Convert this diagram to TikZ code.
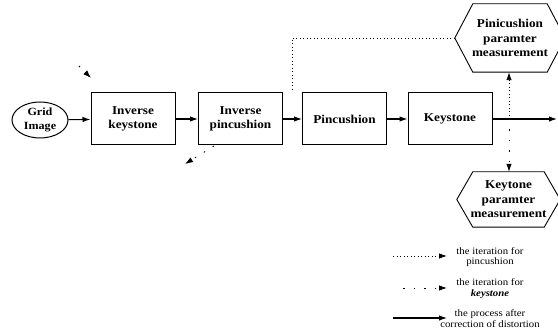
\documentclass[tikz,border=0pt]{standalone}
\usepackage{fontspec}
\setmainfont{Liberation Serif}[FakeStretch=1.1]
\usetikzlibrary{arrows.meta,calc,shapes.geometric}
\begin{document}
\begin{tikzpicture}[x=1pt,y=-1pt,
  box/.style={draw, line width=1pt, minimum width=84pt, minimum height=52pt,
    font=\bfseries\fontsize{12}{14}\selectfont, align=center, inner sep=0pt},
  hexnode/.style={font=\bfseries\fontsize{12}{14.5}\selectfont, align=center, inner sep=0pt},
  hexline/.style={line width=0.9pt},
  flow/.style={-{Latex[length=8pt,width=5.5pt]}, line width=1.1pt},
  dotline/.style={line width=0.9pt, dash pattern=on 0.9pt off 2.6pt},
  kline/.style={line width=0.9pt, dash pattern=on 1.5pt off 9pt},
  tip/.style={-{Latex[length=8pt,width=5.5pt]}},
  legtext/.style={font=\fontsize{9.8}{10.8}\selectfont, align=center, inner sep=0pt}]
\useasboundingbox (0,0) rectangle (558,336);

% main row
\node[ellipse, draw, line width=1pt, minimum width=56pt, minimum height=36pt, inner sep=0pt,
  font=\bfseries\fontsize{11}{14}\selectfont, align=center] (grid) at (40,120) {Grid\\Image};
\node[box] (ik) at (133,119) {Inverse\\keystone};
\node[box] (ip) at (240.5,119) {Inverse\\pincushion};
\node[box] (pc) at (344.5,119) {Pincushion};
\node[box] (ks) at (450,119) {Keystone};
\coordinate (out) at (557,119);
\coordinate (split) at (509,119);

\draw[flow] (grid) -- (ik);
\draw[flow] (ik) -- (ip);
\draw[flow] (ip) -- (pc);
\draw[flow] (pc) -- (ks);
\draw[flow] (ks) -- (out);

% hexagons
\node[hexnode, minimum width=110pt, minimum height=68pt] (hp) at (510,38)
  {Pinicushion\\paramter\\measurement};
\draw[hexline] (hp.west) -- ($(hp.north west)+(18,0)$) -- ($(hp.north east)+(-18,0)$)
  -- (hp.east) -- ($(hp.south east)+(-18,0)$) -- ($(hp.south west)+(18,0)$) -- cycle;

\node[hexnode, minimum width=103pt, minimum height=55pt] (hk) at (508.5,199.5)
  {Keytone\\paramter\\measurement};
\draw[hexline] (hk.west) -- ($(hk.north west)+(16,0)$) -- ($(hk.north east)+(-16,0)$)
  -- (hk.east) -- ($(hk.south east)+(-16,0)$) -- ($(hk.south west)+(16,0)$) -- cycle;

% pincushion iteration (dotted)
\coordinate (dl) at (292,90);
\draw[dotline] (hp.west) -| (dl);
\draw[dotline, tip] (split) -- (split |- hp.south);

% keystone iteration (sparse dashed)
\draw[kline, tip] (split) -- (split |- hk.north);
\coordinate (ka1) at (79,66);
\coordinate (ka2) at (91,78);
\draw[kline, tip] (ka1) -- (ka2);
\coordinate (kb1) at (214,146);
\coordinate (kb2) at (185,164);
\draw[kline, tip] (kb1) -- (kb2);

% legend
\coordinate (l1a) at (393,256); \coordinate (l1b) at (447,256);
\draw[dotline, tip] (l1a) -- (l1b);
\node[legtext] (t1) at (490,257) {the iteration for\\pincushion};
\coordinate (l2a) at (403,288); \coordinate (l2b) at (447,288);
\draw[kline, tip] (l2a) -- (l2b);
\node[legtext] (t2) at (490,288.5) {the iteration for\\\textbf{\textit{keystone}}};
\coordinate (l3a) at (393,318); \coordinate (l3b) at (447,318);
\draw[flow] (l3a) -- (l3b);
\node[legtext] (t3) at (490,318.5) {the process after\\correction of distortion};
\end{tikzpicture}
\end{document}
